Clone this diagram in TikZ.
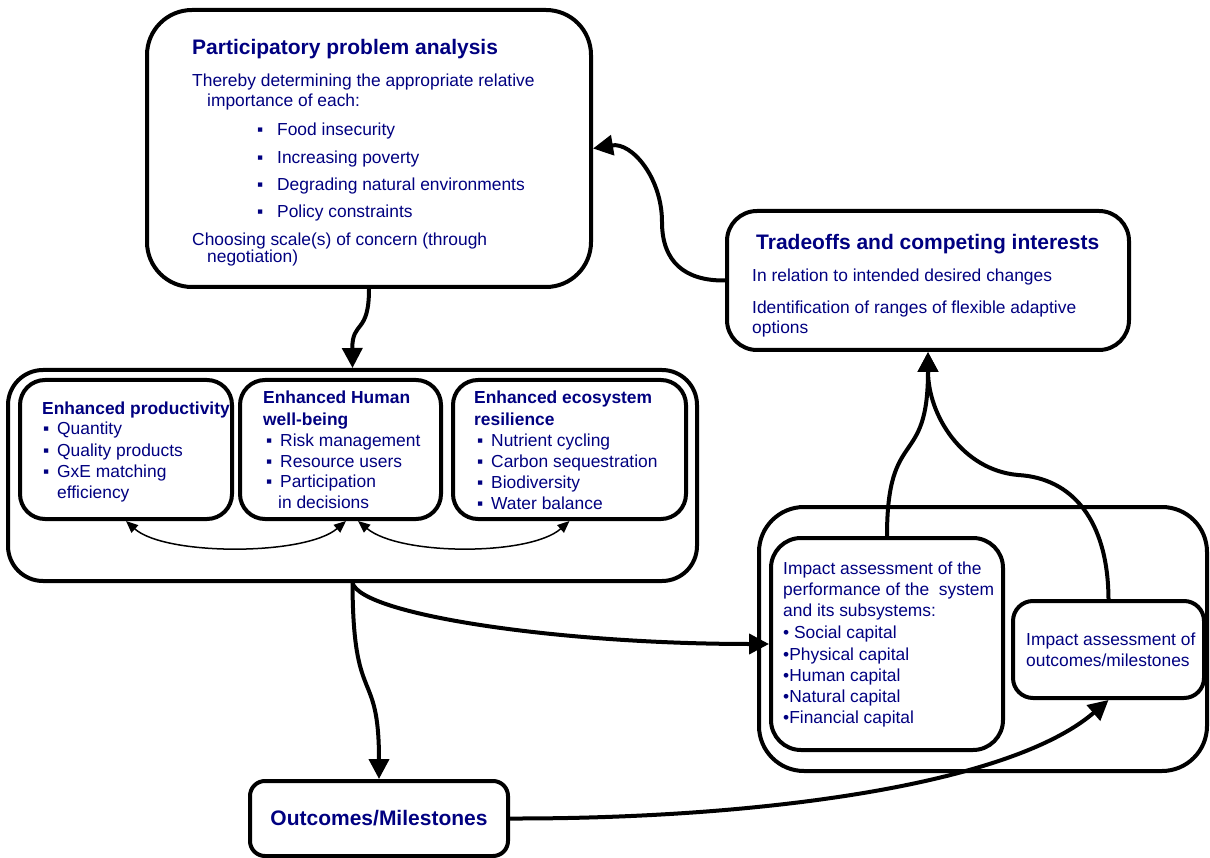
\documentclass[tikz,border=0pt]{standalone}
\usepackage{fontspec}
\setmainfont{Liberation Sans}
\usetikzlibrary{arrows.meta}
\definecolor{navytxt}{RGB}{0,0,128}
\begin{document}
\begin{tikzpicture}[x=1pt,y=-1pt,
  box/.style={draw,line width=4pt,rounded corners=#1,inner sep=0pt},
  txt/.style={anchor=base west,inner sep=0pt,text=navytxt,font=\fontsize{17.4}{21}\selectfont},
  hd/.style={txt,font=\fontsize{17.4}{21}\selectfont\bfseries},
  ttl/.style={txt,font=\fontsize{21}{25}\selectfont\bfseries},
  link/.style={line width=4pt,-{Triangle[length=20pt,width=20pt]}},
  pair/.style={line width=1.5pt,{Triangle[length=12pt,width=10pt]}-{Triangle[length=12pt,width=10pt]}}]
\useasboundingbox (0,0) rectangle (1210,858);
\node[box=45pt,minimum width=444pt,minimum height=277pt] (pa) at (369,148.5) {};
\node[box=30pt,minimum width=402pt,minimum height=139pt] (tr) at (928,280.5) {};
\node[box=35pt,minimum width=689pt,minimum height=211pt] (mid) at (352.5,475.5) {};
\node[box=25pt,minimum width=212pt,minimum height=139pt] (prod) at (126,449.5) {};
\node[box=25pt,minimum width=201pt,minimum height=139pt] (hum) at (340.5,449.5) {};
\node[box=25pt,minimum width=233pt,minimum height=139pt] (eco) at (569.5,449.5) {};
\node[box=45pt,minimum width=448pt,minimum height=264pt] (rgt) at (983,639) {};
\node[box=30pt,minimum width=232pt,minimum height=212pt] (ias) at (887,644) {};
\node[box=20pt,minimum width=191pt,minimum height=97pt] (iao) at (1108.5,649.5) {};
\node[box=15pt,minimum width=258pt,minimum height=75pt,text=navytxt,font=\fontsize{21}{25}\selectfont\bfseries] (out) at (379,818.5) {Outcomes/Milestones};

\node[ttl] (pat) at (192,55) {Participatory problem analysis};
\node[txt] (pa1) at (192,87) {Thereby determining the appropriate relative};
\node[txt] (pa2) at (207,107) {importance of each:};
\foreach \y/\s [count=\i] in {136/Food insecurity,164/Increasing poverty,191/Degrading natural environments,218/Policy constraints}
  \node[txt] (pb\i) at (257,\y) {\makebox[20pt][l]{▪}\s};
\node[txt] (pa3) at (192,246) {Choosing scale(s) of concern (through};
\node[txt] (pa4) at (207,263) {negotiation)};

\node[ttl] (trt) at (756,250) {Tradeoffs and competing interests};
\node[txt] (tr1) at (752,282) {In relation to intended desired changes};
\node[txt] (tr2) at (752,314) {Identification of ranges of flexible adaptive};
\node[txt] (tr3) at (752,334) {options};

\node[hd] (prt) at (42,414) {Enhanced productivity};
\foreach \y/\s [count=\i] in {435/Quantity,456/Quality products,477/GxE matching}
  \node[txt] (pr\i) at (43,\y) {\makebox[14pt][l]{▪}\s};
\node[txt] (pr4) at (57,498) {efficiency};

\node[hd] (hut) at (263,403) {Enhanced Human};
\node[hd] (hut2) at (263,425) {well-being};
\foreach \y/\s [count=\i] in {446/Risk management,467/Resource users,487/Participation}
  \node[txt] (hu\i) at (266,\y) {\makebox[14pt][l]{▪}\s};
\node[txt] (hu4) at (278,508) {in decisions};

\node[hd] (ect) at (474,403) {Enhanced ecosystem};
\node[hd] (ect2) at (474,425) {resilience};
\foreach \y/\s [count=\i] in {446/Nutrient cycling,467/Carbon sequestration,488/Biodiversity,509/Water balance}
  \node[txt] (ec\i) at (477,\y) {\makebox[14pt][l]{▪}\s};

\foreach \y/\s [count=\i] in {574/Impact assessment of the,595/performance of the\ \ system,616/and its subsystems:,638/• Social capital,660/•Physical capital,681/•Human capital,702/•Natural capital,723/•Financial capital}
  \node[txt] (ia\i) at (783,\y) {\s};
\node[txt] (io1) at (1026,645) {Impact assessment of};
\node[txt] (io2) at (1026,666) {outcomes/milestones};

\coordinate (hl) at (346,521);
\coordinate (hr) at (358,521);
\draw[pair] (prod.south) .. controls (165,556) and (305,556) .. (hl);
\draw[pair] (hr) .. controls (400,556) and (530,556) .. (eco.south);

\draw[link] (tr.west) .. controls (685,281) and (662,262) .. (662,222) .. controls (662,178) and (632,142) .. (pa.east);
\draw[link] (pa.south) .. controls (369,335) and (352,320) .. (mid.north);
\draw[link] (mid.south) .. controls (353,710) and (379,665) .. (out.north);
\draw[link] (mid.south) .. controls (362,615) and (560,644) .. (ias.west);
\draw[link] (out.east) .. controls (760,819) and (1010,785) .. (iao.south);
\draw[link] (ias.north) .. controls (887,425) and (928,470) .. (tr.south);
\draw[link] (iao.north) .. controls (1108,520) and (1072,478) .. (1018,475) .. controls (962,470) and (928,415) .. (tr.south);
\end{tikzpicture}
\end{document}
